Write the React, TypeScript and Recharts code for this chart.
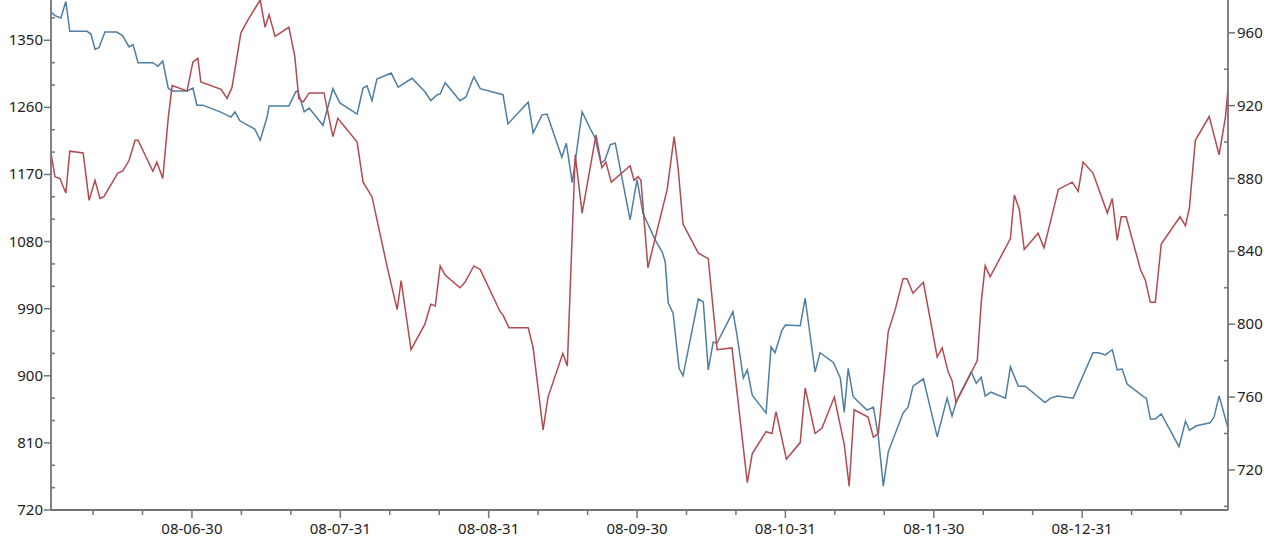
import React from 'react';
import { LineChart, Line, XAxis, YAxis } from 'recharts';

// day offsets (0 = first minor tick) and values
const blueDays = [
  -8.5, -7.7, -6.5, -5.5, -4.7, -1.2, -0.4, 0.4, 1.2, 2.4,
  4.8, 6.0, 7.3, 8.1, 9.1, 12.1, 13.1, 14.1, 15.2, 16.0,
  19.0, 20.2, 21.0, 22.2, 25.7, 27.9, 28.7, 29.7, 32.7, 33.8,
  35.2, 35.6, 39.6, 41.0, 41.4, 42.7, 43.7, 46.5, 48.5, 49.9,
  53.4, 54.6, 55.4, 56.4, 57.4, 60.3, 61.7, 64.5, 67.1, 68.3,
  69.6, 70.2, 71.2, 74.2, 75.4, 77.0, 78.3, 82.9, 83.9, 88.0,
  89.0, 90.8, 91.8, 94.8, 95.7, 96.9, 98.9, 100.5, 101.5, 102.7,
  103.5, 104.6, 105.6, 108.6, 110.0, 111.2, 113.7, 115.1, 115.7, 116.3,
  117.3, 118.5, 119.3, 122.4, 123.4, 124.4, 125.4, 126.2, 129.4, 130.2,
  131.5, 132.3, 133.3, 136.1, 137.1, 137.9, 139.3, 140.0, 143.0, 144.0,
  146.0, 147.0, 149.7, 151.1, 151.9, 152.7, 153.7, 156.5, 157.8, 158.8,
  159.8, 160.8, 163.8, 164.8, 165.8, 167.9, 170.7, 172.7, 173.7, 174.7,
  177.6, 178.6, 179.6, 180.4, 181.6, 184.5, 185.5, 187.1, 188.5, 192.5,
  193.6, 195.0, 198.2, 202.2, 203.3, 204.7, 206.1, 207.1, 208.1, 209.1,
  212.4, 213.0, 213.8, 214.8, 216.0, 219.6, 220.9, 221.7, 223.1, 225.9,
  226.7, 227.7, 229.5,
];
const blueValues = [
  1388, 1383, 1380, 1402, 1362, 1362, 1358, 1338, 1340, 1361,
  1361, 1356, 1341, 1344, 1320, 1320, 1315, 1322, 1286, 1282,
  1282, 1286, 1263, 1263, 1254, 1247, 1254, 1242, 1231, 1216,
  1247, 1262, 1262, 1281, 1282, 1254, 1259, 1236, 1285, 1266,
  1251, 1286, 1289, 1269, 1298, 1306, 1287, 1299, 1281, 1269,
  1277, 1278, 1293, 1269, 1274, 1301, 1285, 1277, 1238, 1267,
  1226, 1250, 1251, 1193, 1212, 1159, 1254, 1232, 1219, 1185,
  1189, 1210, 1212, 1109, 1163, 1118, 1082, 1066, 1053, 998,
  984, 910, 900, 1003, 999, 908, 945, 944, 986, 955,
  897, 908, 874, 850, 939, 931, 961, 968, 967, 1004,
  905, 931, 918, 897, 851, 910, 872, 854, 858, 818,
  752, 798, 850, 858, 886, 896, 818, 870, 846, 868,
  905, 890, 898, 873, 878, 870, 912, 886, 886, 864,
  870, 873, 870, 931, 931, 928, 935, 908, 909, 889,
  872, 870, 842, 842, 849, 805, 839, 827, 833, 837,
  845, 873, 830,
];

const redDays = [
  -8.5, -7.7, -6.7, -5.5, -4.7, -2.0, -0.8, 0.4, 1.4, 2.2,
  5.0, 6.0, 7.3, 8.5, 9.1, 12.1, 12.9, 14.1, 15.2, 16.0,
  19.0, 20.2, 21.2, 21.8, 25.9, 27.1, 28.1, 29.9, 31.3, 33.8,
  34.8, 35.6, 36.8, 39.6, 40.8, 41.6, 42.5, 43.7, 46.7, 48.5,
  49.5, 53.4, 54.6, 56.4, 59.6, 61.5, 62.3, 64.3, 67.1, 68.3,
  69.2, 70.2, 71.2, 74.2, 75.2, 77.0, 78.3, 82.3, 82.9, 84.1,
  88.0, 89.0, 91.0, 92.0, 95.0, 95.9, 97.5, 98.9, 101.7, 102.9,
  103.7, 104.8, 108.6, 109.4, 110.2, 110.8, 112.2, 116.1, 117.5, 118.3,
  119.3, 122.4, 124.4, 126.2, 129.2, 132.3, 133.3, 136.1, 137.3, 138.1,
  140.2, 143.0, 144.0, 146.0, 147.4, 149.9, 151.9, 152.9, 153.9, 156.7,
  157.8, 158.8, 160.8, 162.2, 163.8, 164.6, 165.8, 167.9, 170.7, 171.7,
  172.9, 173.7, 174.5, 178.8, 179.6, 180.4, 181.4, 185.5, 186.3, 187.3,
  188.3, 191.1, 192.3, 195.2, 198.0, 199.2, 200.2, 202.2, 205.1, 206.1,
  207.1, 207.9, 208.9, 211.8, 212.8, 213.8, 214.8, 216.0, 219.8, 220.9,
  221.7, 222.9, 225.7, 227.7, 229.0, 229.5,
];
const redValues = [
  894, 881, 880, 872, 895, 894, 868, 879, 869, 870,
  883, 884, 890, 901, 901, 884, 889, 880, 913, 931,
  928, 944, 946, 933, 929, 924, 930, 960, 967, 978,
  963, 970, 958, 963, 947, 924, 922, 927, 927, 903,
  913, 900, 878, 870, 830, 808, 824, 786, 800, 811,
  810, 832, 827, 820, 823, 832, 830, 807, 805, 798,
  798, 787, 742, 760, 784, 777, 893, 861, 904, 886,
  889, 878, 887, 879, 881, 879, 831, 874, 903, 886,
  855, 839, 836, 786, 787, 713, 729, 741, 740, 752,
  726, 735, 765, 740, 743, 760, 734, 711, 753, 749,
  738, 740, 796, 808, 825, 825, 817, 823, 782, 787,
  774, 769, 757, 780, 812, 832, 826, 847, 871, 863,
  841, 850, 842, 874, 878, 873, 889, 883, 861, 869,
  846, 859, 859, 830, 824, 812, 812, 844, 859, 854,
  864, 901, 914, 893, 914, 929,
];

const dateLabels = ['08-06-30', '08-07-31', '08-08-31', '08-09-30', '08-10-31', '08-11-30', '08-12-31'];
const labelDays = [20, 50, 80, 110, 140, 170, 200];
const leftLabels = [720, 810, 900, 990, 1080, 1170, 1260, 1350];
const rightLabels = [720, 760, 800, 840, 880, 920, 960];

const blueData = blueDays.map((t, i) => ({ t, v: blueValues[i] }));
const redData = redDays.map((t, i) => ({ t, v: redValues[i] }));

const xTicks = Array.from({ length: 23 }, (_, i) => i * 10);
const leftTicks = Array.from({ length: 23 }, (_, i) => 720 + i * 30);
const rightTicks = Array.from({ length: 14 }, (_, i) => 700 + i * 20);

const AXIS = '#747474';
const TEXT = '#222';
const FONT = '"Noto Sans", "Open Sans", sans-serif';

function LeftTick({ x, y, payload }: any) {
  const major = leftLabels.includes(payload.value);
  return (
    <g>
      {major ? (
        <line x1={x - 7} x2={x} y1={y} y2={y} stroke={AXIS} strokeWidth={1.5} />
      ) : (
        <line x1={x} x2={x + 4} y1={y} y2={y} stroke={AXIS} strokeWidth={1.5} />
      )}
      {major && (
        <text x={x - 8} y={y + 5} textAnchor="end" fontSize={15} fill={TEXT} fontFamily={FONT}>
          {payload.value}
        </text>
      )}
    </g>
  );
}

function RightTick({ x, y, payload }: any) {
  const major = rightLabels.includes(payload.value);
  return (
    <g>
      {major ? (
        <line x1={x} x2={x + 7} y1={y} y2={y} stroke={AXIS} strokeWidth={1.5} />
      ) : (
        <line x1={x - 4} x2={x} y1={y} y2={y} stroke={AXIS} strokeWidth={1.5} />
      )}
      {major && (
        <text x={x + 9} y={y + 5} textAnchor="start" fontSize={15} fill={TEXT} fontFamily={FONT}>
          {payload.value}
        </text>
      )}
    </g>
  );
}

function BottomTick({ x, y, payload }: any) {
  const idx = labelDays.indexOf(payload.value);
  const major = idx >= 0;
  return (
    <g>
      <line x1={x} x2={x} y1={y} y2={y + (major ? 8 : 5)} stroke={AXIS} strokeWidth={1.5} />
      {major && (
        <text x={x} y={y + 24} textAnchor="middle" fontSize={15} fill={TEXT} fontFamily={FONT}>
          {dateLabels[idx]}
        </text>
      )}
    </g>
  );
}

export default function App() {
  return (
    <div style={{ width: 1280, height: 543, background: '#fff' }}>
      <style>{`body { margin: 0; }`}</style>
      <LineChart width={1280} height={543} margin={{ top: 0, right: 0, bottom: 0, left: 0 }}>
        <XAxis
          dataKey="t"
          type="number"
          domain={[-8.5, 229.5]}
          allowDataOverflow
          ticks={xTicks}
          interval={0}
          height={33}
          tickSize={0}
          tickMargin={0}
          tickLine={false}
          axisLine={{ stroke: AXIS, strokeWidth: 1.8 }}
          tick={<BottomTick />}
        />
        <YAxis
          yAxisId="left"
          orientation="left"
          type="number"
          domain={[720, 1404]}
          allowDataOverflow
          ticks={leftTicks}
          interval={0}
          width={51}
          tickSize={0}
          tickMargin={0}
          tickLine={false}
          axisLine={{ stroke: AXIS, strokeWidth: 1.8 }}
          tick={<LeftTick />}
        />
        <YAxis
          yAxisId="right"
          orientation="right"
          type="number"
          domain={[698, 978]}
          allowDataOverflow
          ticks={rightTicks}
          interval={0}
          width={52}
          tickSize={0}
          tickMargin={0}
          tickLine={false}
          axisLine={{ stroke: AXIS, strokeWidth: 1.8 }}
          tick={<RightTick />}
        />
        <Line
          yAxisId="left"
          data={blueData}
          dataKey="v"
          type="linear"
          stroke="#4e7ea3"
          strokeWidth={1.5}
          dot={false}
          isAnimationActive={false}
        />
        <Line
          yAxisId="right"
          data={redData}
          dataKey="v"
          type="linear"
          stroke="#b24a51"
          strokeWidth={1.5}
          dot={false}
          isAnimationActive={false}
        />
      </LineChart>
    </div>
  );
}
